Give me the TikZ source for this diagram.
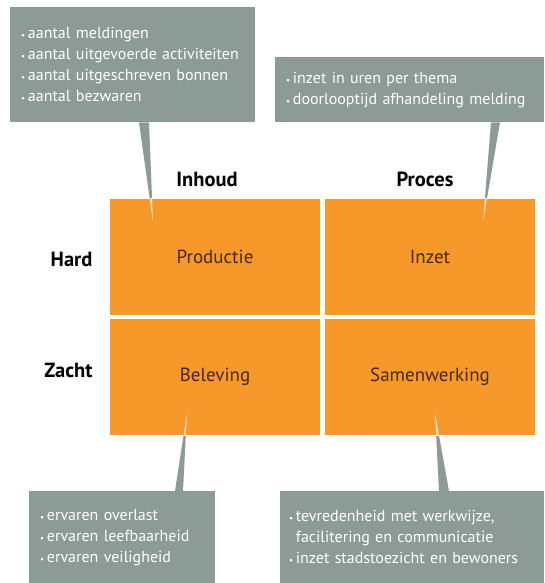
\documentclass[tikz,border=0pt]{standalone}
\usepackage{fontspec}
\setmainfont{PT Sans}
\usepackage{xcolor}
\usepackage{tikz}

\definecolor{cellorange}{HTML}{F7982A}
\definecolor{boxgrey}{HTML}{8C9B96}
\definecolor{celltext}{HTML}{4A2A12}
\definecolor{tipcream}{HTML}{FBE3B4}

\newcommand{\bul}{{\fontsize{9}{9}\selectfont\textbullet}\,}

\tikzset{
    cell/.style = {fill = cellorange, minimum width = 210, minimum height = 116, inner sep = 0, text = celltext, font = \fontsize{19}{22}\selectfont},
    infobox/.style = {fill = boxgrey, anchor = north west, align = left, text = white, inner xsep = 11, font = \fontsize{16}{21}\selectfont},
    head/.style = {font = \fontsize{20.5}{22}\bfseries\selectfont},
}

\begin{document}
\begin{tikzpicture}[x = 1pt, y = -1pt]
    \useasboundingbox (0, 0) rectangle (544, 583);

    \node [cell] (prod) at (215, 257) {Productie};
    \node [cell] (inzet) at (430, 257) {Inzet};
    \node [cell] (belev) at (215, 377) {Beleving};
    \node [cell] (samen) at (430, 377) {Samenwerking};

    \node [head] (inhoud) at (207, 179) {Inhoud};
    \node [head] (proces) at (425, 179) {Proces};
    \node [head, anchor = east] (hard) at (96, 259) {Hard};
    \node [head, anchor = east] (zacht) at (96, 370) {Zacht};

    \node [infobox, minimum width = 245, minimum height = 115, text width = 223] (cbProd) at (10, 7)
        {\bul aantal meldingen\\ \bul aantal uitgevoerde activiteiten\\ \bul aantal uitgeschreven bonnen\\ \bul aantal bezwaren};
    \node [infobox, minimum width = 269, minimum height = 65, text width = 247] (cbInzet) at (275, 57)
        {\bul inzet in uren per thema\\ \bul doorlooptijd afhandeling melding};
    \node [infobox, minimum width = 186, minimum height = 92, text width = 164] (cbBelev) at (29, 491)
        {\bul ervaren overlast\\ \bul ervaren leefbaarheid\\ \bul ervaren veiligheid};
    \node [infobox, minimum width = 264, minimum height = 92, text width = 246, inner xsep = 9] (cbSamen) at (280, 491)
        {\bul tevredenheid met werkwijze,\\ \phantom{\bul}facilitering en communicatie\\ \bul inzet stadstoezicht en bewoners};

    \coordinate (tipProd) at (153, 222);
    \coordinate (tipInzet) at (483, 222);
    \coordinate (tipBelev) at (187, 413);
    \coordinate (tipSamen) at (435, 413);

    \foreach \base/\a/\b/\tip in {cbProd.south west/129/139/tipProd, cbInzet.south west/216/225/tipInzet, cbBelev.north west/146/154/tipBelev, cbSamen.north west/159/169/tipSamen}
        \fill [boxgrey] ([xshift = \a]\base) -- ([xshift = \b]\base) -- (\tip) -- cycle;

    \begin{scope}
        \clip (prod.north west) rectangle (samen.south east);
        \foreach \base/\a/\b/\tip in {cbProd.south west/129/139/tipProd, cbInzet.south west/216/225/tipInzet, cbBelev.north west/146/154/tipBelev, cbSamen.north west/159/169/tipSamen}
            \fill [tipcream] ([xshift = \a]\base) -- ([xshift = \b]\base) -- (\tip) -- cycle;
    \end{scope}
\end{tikzpicture}
\end{document}
